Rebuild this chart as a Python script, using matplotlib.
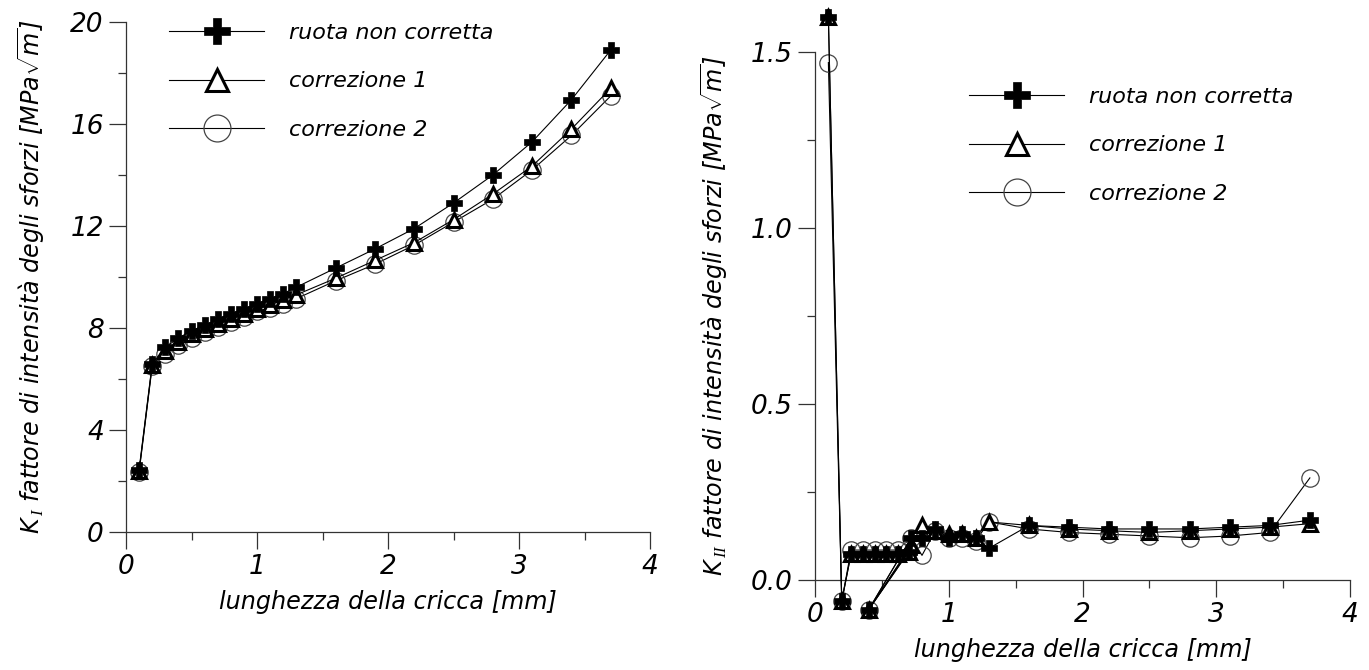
import matplotlib
matplotlib.use("Agg")
import matplotlib.pyplot as plt
from matplotlib.ticker import MultipleLocator

plt.rcParams['font.family'] = ['DejaVu Sans']
plt.rcParams['font.style'] = 'italic'
plt.rcParams['mathtext.fontset'] = 'custom'
plt.rcParams['mathtext.rm'] = 'Liberation Serif'
plt.rcParams['mathtext.it'] = 'DejaVu Sans:italic'
plt.rcParams['mathtext.sf'] = 'DejaVu Sans'

# ---- data: K_I ----
x_KI = [0.1, 0.2, 0.3, 0.4, 0.5, 0.6, 0.7, 0.8, 0.9, 1.0, 1.1, 1.2, 1.3,
        1.6, 1.9, 2.2, 2.5, 2.8, 3.1, 3.4, 3.7]
KI_ruota = [2.45, 6.6, 7.25, 7.6, 7.9, 8.1, 8.35, 8.55, 8.75, 8.95, 9.15, 9.35, 9.6,
            10.35, 11.1, 11.9, 12.9, 14.0, 15.3, 16.95, 18.9]
KI_corr1 = [2.4, 6.55, 7.1, 7.45, 7.75, 7.95, 8.15, 8.35, 8.55, 8.75, 8.9, 9.1, 9.3,
            9.95, 10.65, 11.35, 12.25, 13.25, 14.35, 15.8, 17.4]
KI_corr2 = [2.35, 6.5, 7.0, 7.35, 7.6, 7.85, 8.05, 8.25, 8.45, 8.65, 8.8, 8.95, 9.15,
            9.85, 10.5, 11.25, 12.15, 13.05, 14.2, 15.55, 17.1]

# ---- data: K_II ----
x_KII = [0.1, 0.2, 0.27, 0.36, 0.45, 0.53, 0.62, 0.7, 0.4, 0.72, 0.8, 0.9, 1.0,
         1.1, 1.2, 1.3, 1.6, 1.9, 2.2, 2.5, 2.8, 3.1, 3.4, 3.7]
KII_ruota = [1.6, -0.06, 0.075, 0.075, 0.075, 0.075, 0.075, 0.08, -0.085, 0.12,
             0.12, 0.145, 0.12, 0.13, 0.12, 0.09, 0.155, 0.15, 0.145, 0.145, 0.145,
             0.15, 0.155, 0.17]
KII_corr1 = [1.6, -0.06, 0.075, 0.075, 0.075, 0.075, 0.075, 0.08, -0.085, 0.1,
             0.155, 0.14, 0.13, 0.13, 0.12, 0.165, 0.155, 0.145, 0.14, 0.135, 0.14,
             0.145, 0.15, 0.16]
KII_corr2 = [1.47, -0.06, 0.085, 0.085, 0.085, 0.085, 0.085, 0.085, -0.085, 0.12,
             0.07, 0.14, 0.12, 0.12, 0.11, 0.165, 0.145, 0.135, 0.13, 0.125, 0.12,
             0.125, 0.135, 0.29]

labels = ['ruota non corretta', 'correzione 1', 'correzione 2']

fig = plt.figure(figsize=(13.69, 6.70), dpi=100)
ax1 = fig.add_axes([126/1369, (670-532)/670, 524/1369, 510/670])
ax2 = fig.add_axes([815/1369, (670-580)/670, 535/1369, 528/670])

def style(series_ax, x, r, c1, c2, ms):
    l2, = series_ax.plot(x, c2, '-', color='black', lw=0.8, marker='o', ms=ms,
                         mfc='none', mec='#444444', mew=0.9, clip_on=False, zorder=3)
    l1, = series_ax.plot(x, c1, '-', color='black', lw=0.8, marker='^', ms=ms*0.85,
                         mfc='white', mec='black', mew=2.2, clip_on=False, zorder=4)
    l0, = series_ax.plot(x, r, '-', color='black', lw=0.8, marker='P', ms=ms*0.97,
                         mfc='black', mec='black', mew=0.5, clip_on=False, zorder=5)
    return [l0, l1, l2]

h1 = style(ax1, x_KI, KI_ruota, KI_corr1, KI_corr2, 12.5)
h2 = style(ax2, x_KII, KII_ruota, KII_corr1, KII_corr2, 12.5)

ax1.set_xlim(0, 4)
ax1.set_ylim(0, 20)
ax1.xaxis.set_major_locator(MultipleLocator(1))
ax1.xaxis.set_minor_locator(MultipleLocator(0.5))
ax1.yaxis.set_major_locator(MultipleLocator(4))
ax1.yaxis.set_minor_locator(MultipleLocator(2))

ax2.set_xlim(0, 4)
ax2.set_ylim(0, 1.5)
ax2.xaxis.set_major_locator(MultipleLocator(1))
ax2.xaxis.set_minor_locator(MultipleLocator(0.5))
ax2.yaxis.set_major_locator(MultipleLocator(0.5))
ax2.yaxis.set_minor_locator(MultipleLocator(0.25))
ax2.yaxis.set_major_formatter(plt.FuncFormatter(lambda v, p: f"{v:.1f}"))

for ax in (ax1, ax2):
    for s in ('top', 'right'):
        ax.spines[s].set_visible(False)
    for s in ('left', 'bottom'):
        ax.spines[s].set_linewidth(0.9)
        ax.spines[s].set_color('#333333')
    ax.patch.set_alpha(0)
    ax.tick_params(which='major', direction='out', length=12, width=0.9,
                   color='#333333', labelsize=19, pad=4)
    ax.tick_params(which='minor', direction='out', length=6, width=0.9,
                   color='#333333')
    for t in ax.get_xticklabels() + ax.get_yticklabels():
        t.set_fontstyle('italic')

ax1.set_xlabel('lunghezza della cricca [mm]', fontsize=17.2, labelpad=7)
ax2.set_xlabel('lunghezza della cricca [mm]', fontsize=17.2, labelpad=7)
ax1.set_ylabel(r'$K_{\,\mathrm{I}}$ fattore di intensità degli sforzi [MPa$\sqrt{m}$]',
               fontsize=17.2, labelpad=17)
ax2.set_ylabel(r'$K_{\,\mathrm{II}}$ fattore di intensità degli sforzi [MPa$\sqrt{m}$]',
               fontsize=17.2, labelpad=15)

leg_kw = dict(frameon=False, fontsize=16, markerscale=1.55, handlelength=4.3,
              handletextpad=1.1, labelspacing=1.28, borderaxespad=0)
ax1.legend(h1, labels, loc='upper left', bbox_to_anchor=((160-126)/524, 1.0 + 8/510), **leg_kw)
ax2.legend(h2, labels, loc='upper left', bbox_to_anchor=((960-815)/535, (580-78)/528), **leg_kw)

fig.savefig('out.png', dpi=100)
